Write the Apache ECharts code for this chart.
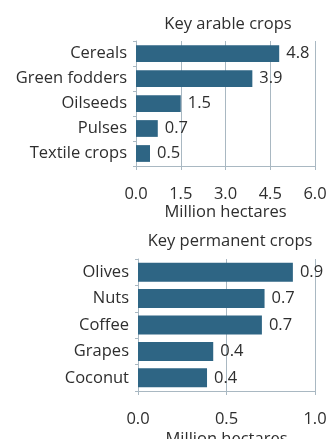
<!DOCTYPE html>
<html>
<head>
<meta charset="utf-8">
<script src="https://cdn.jsdelivr.net/npm/echarts@6/dist/echarts.min.js"></script>
<style>
  html, body { margin: 0; padding: 0; background: #fff; }
  #chart { width: 326px; height: 439px; }
</style>
</head>
<body>
<div id="chart"></div>
<script>
const arableCrops = ['Cereals', 'Green fodders', 'Oilseeds', 'Pulses', 'Textile crops']
const arableValues = [4.8, 3.9, 1.5, 0.73, 0.47]
const arableLabels = ['4.8', '3.9', '1.5', '0.7', '0.5']

const permCrops = ['Olives', 'Nuts', 'Coffee', 'Grapes', 'Coconut']
const permValues = [0.875, 0.715, 0.7, 0.425, 0.39]
const permLabels = ['0.9', '0.7', '0.7', '0.4', '0.4']

const barColor = '#2e6584'
const lineColor = '#a9b8c2'
const textColor = '#2e2e2e'
const font = 'Open Sans'
const fs = 16.5

const chart = echarts.init(document.getElementById('chart'))

function xAxisOf(gridIndex, max, interval, nameGap) {
  return {
    gridIndex,
    type: 'value',
    min: 0,
    max,
    interval,
    name: 'Million hectares',
    nameLocation: 'middle',
    nameGap,
    nameTextStyle: { fontFamily: font, fontSize: fs, color: textColor },
    axisLine: { show: true, lineStyle: { color: lineColor } },
    axisTick: { show: true, length: 4, lineStyle: { color: lineColor } },
    splitLine: { lineStyle: { color: lineColor } },
    axisLabel: {
      fontFamily: font, fontSize: fs, color: textColor, margin: 20,
      formatter: v => v.toFixed(1)
    }
  }
}

function yAxisOf(gridIndex, cats) {
  return {
    gridIndex,
    type: 'category',
    data: cats,
    inverse: true,
    axisLine: { show: true, lineStyle: { color: lineColor } },
    axisTick: { show: true, length: 3, lineStyle: { color: lineColor } },
    axisLabel: { fontFamily: font, fontSize: fs, color: textColor, margin: 9 }
  }
}

function barSeries(idx, values, labels, width) {
  return {
    type: 'bar',
    xAxisIndex: idx,
    yAxisIndex: idx,
    data: values,
    barWidth: width,
    itemStyle: { color: barColor },
    label: {
      show: true,
      position: 'right',
      distance: 7,
      fontFamily: font,
      fontSize: fs,
      color: textColor,
      formatter: p => labels[p.dataIndex]
    }
  }
}

chart.setOption({
  animation: false,
  title: [
    { text: 'Key arable crops', left: 223, top: 11, textAlign: 'center',
      textStyle: { fontFamily: font, fontSize: fs, fontWeight: 'normal', color: textColor } },
    { text: 'Key permanent crops', left: 225, top: 228, textAlign: 'center',
      textStyle: { fontFamily: font, fontSize: fs, fontWeight: 'normal', color: textColor } }
  ],
  grid: [
    { left: 136, right: 11, top: 41, bottom: 273, outerBoundsMode: 'none', containLabel: false },
    { left: 138, right: 11, top: 259, bottom: 48, outerBoundsMode: 'none', containLabel: false }
  ],
  xAxis: [xAxisOf(0, 6, 1.5, 32), xAxisOf(1, 1, 0.5, 40)],
  yAxis: [yAxisOf(0, arableCrops), yAxisOf(1, permCrops)],
  series: [
    barSeries(0, arableValues, arableLabels, '67%'),
    barSeries(1, permValues, permLabels, '72%')
  ]
})
</script>
</body>
</html>
